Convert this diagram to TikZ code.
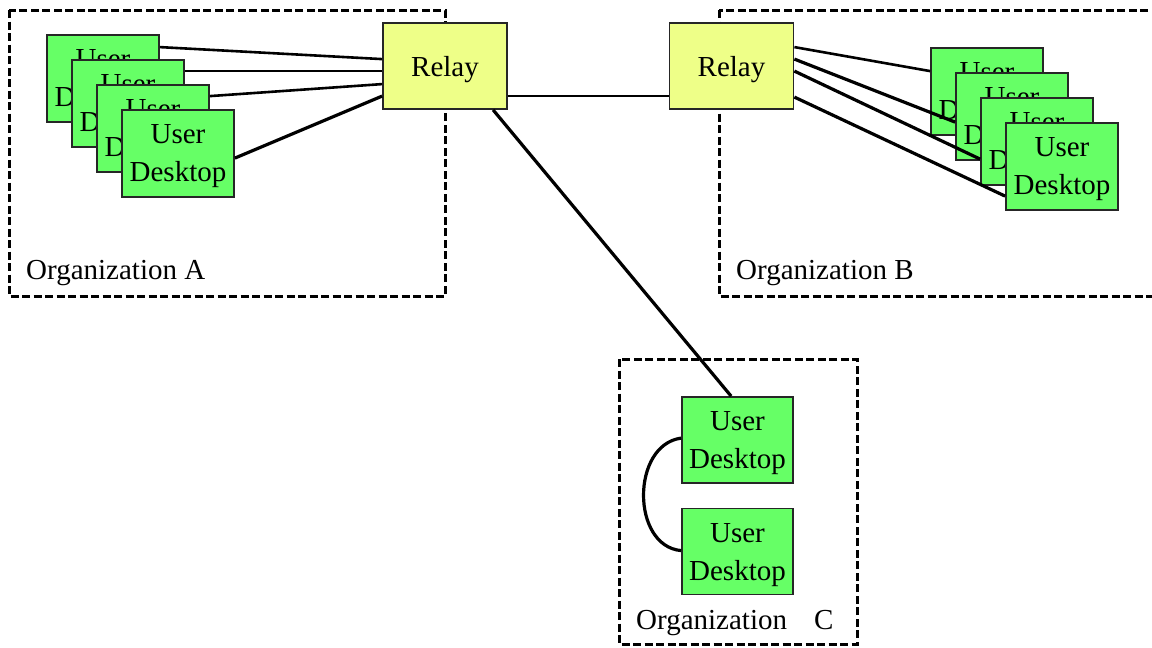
\documentclass[tikz,border=0pt]{standalone}
\usepackage{fontspec}
\setmainfont{Liberation Serif}
\usetikzlibrary{calc}
\definecolor{deskgreen}{RGB}{102,255,102}
\definecolor{relayyellow}{RGB}{238,255,136}
\tikzset{
  orgbox/.style={draw=black, line width=3pt, dash pattern=on 8pt off 3.5pt},
  desk/.style={draw=black!85, line width=1.8pt, fill=deskgreen, minimum width=112pt,
    minimum height=87pt, inner sep=0pt, align=center, text depth=0pt,
    font=\fontsize{29}{38}\selectfont},
  relay/.style={draw=black!85, line width=1.8pt, fill=relayyellow, minimum width=124pt,
    minimum height=86pt, inner sep=0pt, text depth=0pt, font=\fontsize{29}{34}\selectfont},
  orglabel/.style={anchor=base west, inner sep=0pt, font=\fontsize{29}{34}\selectfont},
  link/.style={line width=3.2pt, black}
}
\begin{document}
\begin{tikzpicture}[x=1pt, y=-1pt]
\clip (0,0) rectangle (1152,648);
\fill[white] (0,0) rectangle (1152,648);

% organisation boundaries
\draw[orgbox] (9,10) rectangle (445,296);
\draw[orgbox] (719,10) rectangle (1165,296);
\draw[orgbox] (619,359) rectangle (857,644);

\node[orglabel] (labA) at (26,279) {Organization A};
\node[orglabel] (labB) at (736,279) {Organization B};
\node[orglabel] (labC) at (636,629) {Organization\hspace{27pt}C};

% relays
\node[relay] (relA) at (445,66) {Relay};
\node[relay] (relB) at (731.5,66) {Relay};

% desktops of organisation A
\node[desk] (dA1) at (103,78.5) {User\\Desktop};
\node[desk] (dA2) at (128,103.5) {User\\Desktop};
\node[desk] (dA3) at (153,128.5) {User\\Desktop};
\node[desk] (dA4) at (178,153.5) {User\\Desktop};

% desktops of organisation B
\node[desk] (dB1) at (987,91.5) {User\\Desktop};
\node[desk] (dB2) at (1012,116.5) {User\\Desktop};
\node[desk] (dB3) at (1037,141.5) {User\\Desktop};
\node[desk] (dB4) at (1062,166.5) {User\\Desktop};

% desktops of organisation C
\node[desk, minimum width=111pt, minimum height=86pt] (dC1) at (737.5,440) {User\\Desktop};
\node[desk, minimum width=111pt, minimum height=86pt] (dC2) at (737.5,551.5) {User\\Desktop};

% links inside organisation A
\draw[link, line width=2.6pt] ($(dA1.north east)+(0,13)$) -- ($(relA.north west)+(0,37)$);
\draw[link, line width=2.6pt] ($(dA2.north east)+(0,12)$) -- ($(relA.north west)+(0,49)$);
\draw[link, line width=2.6pt] ($(dA3.north east)+(0,12)$) -- ($(relA.north west)+(0,62)$);
\draw[link] ($(dA4.north east)+(0,49)$) -- ($(relA.north west)+(0,74)$);

% links inside organisation B
\draw[link, line width=2.6pt] ($(relB.north east)+(0,25)$) -- ($(dB1.north west)+(0,24)$);
\draw[link] ($(relB.north east)+(0,37)$) -- ($(dB2.north west)+(0,50)$);
\draw[link] ($(relB.north east)+(0,49)$) -- ($(dB3.north west)+(0,62)$);
\draw[link] ($(relB.north east)+(0,75)$) -- ($(dB4.north west)+(0,74)$);

% relay to relay, relay to organisation C
\draw[link, line width=2.6pt] ($(relA.north east)+(0,74)$) -- ($(relB.north west)+(0,74)$);
\draw[link] ($(relA.south west)+(111,0)$) -- ($(dC1.north west)+(50,0)$);

% peer link inside organisation C
\draw[link] ($(dC1.north west)+(0,42)$) .. controls (631,445) and (631,546) .. ($(dC2.north west)+(0,43)$);
\end{tikzpicture}
\end{document}
